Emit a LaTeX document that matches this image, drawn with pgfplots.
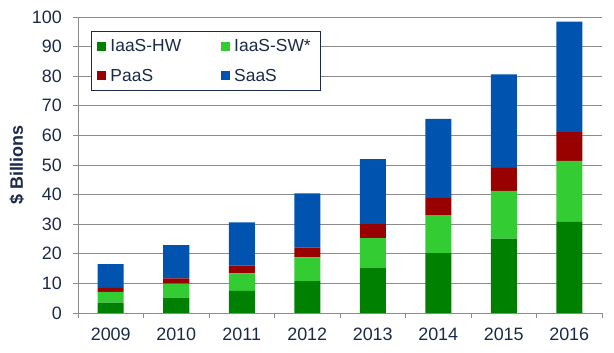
\documentclass[border=0pt]{standalone}
\usepackage{pgfplots}
\pgfplotsset{compat=1.18}
\usepackage{fontspec}
\setmainfont{Liberation Sans}
\definecolor{hw}{HTML}{008000}
\definecolor{sw}{HTML}{33CC33}
\definecolor{paas}{HTML}{990000}
\definecolor{saas}{HTML}{0054B0}
\definecolor{txt}{HTML}{1B2A48}
\definecolor{gridc}{HTML}{8C8C8C}
\begin{document}
\begin{tikzpicture}
\begin{axis}[
  scale only axis, width=524bp, height=296bp,
  ybar stacked, bar width=26bp,
  xmin=-0.5, xmax=7.5, ymin=0, ymax=100,
  xtick={0,...,7},
  xticklabels={2009,2010,2011,2012,2013,2014,2015,2016},
  minor xtick={-0.5,0.5,...,7.5},
  ytick={0,10,...,100},
  axis x line*=bottom, axis y line*=left,
  axis line style={gridc, line width=0.8pt},
  ymajorgrids, grid style={gridc, line width=0.8pt},
  major x tick style={draw=none},
  minor x tick style={gridc, line width=0.8pt},
  y tick style={gridc, line width=0.8pt},
  tick align=outside, major tick length=5bp, minor tick length=5bp,
  /pgf/number format/assume math mode=true,
  tick label style={font=\fontsize{18}{21}\selectfont, text=txt},
  yticklabel style={inner sep=0pt, xshift=-11bp},
  xticklabel style={inner sep=0pt, yshift=-10bp},
  ylabel={\textbf{\$ Billions}},
  every axis y label/.style={at={(axis description cs:-0.1164,0.5)}, rotate=90, anchor=center,
     font=\fontsize{18}{21}\selectfont, text=txt},
  legend columns=2,
  legend cell align=left,
  legend style={at={(axis cs:-0.3,95.3)}, anchor=north west,
    draw=txt, line width=0.8pt,
    font=\fontsize{17.5}{20}\selectfont, text=txt,
    inner xsep=6bp, inner ysep=6bp,
    nodes={inner xsep=4bp},
    /tikz/every even column/.append style={column sep=36bp},
    row sep=12bp},
  legend image code/.code={\fill[#1,draw=none] (0bp,-4.5bp) rectangle (9bp,4.5bp);},
]
\addplot[fill=hw, draw=none] coordinates {(0,3.5) (1,5.2) (2,7.5) (3,10.8) (4,15.2) (5,20.2) (6,25.1) (7,30.8)};
\addplot[fill=sw, draw=none] coordinates {(0,3.6) (1,4.7) (2,5.9) (3,8.0) (4,10.1) (5,12.9) (6,16.2) (7,20.6)};
\addplot[fill=paas, draw=none] coordinates {(0,1.4) (1,1.8) (2,2.6) (3,3.3) (4,4.7) (5,5.8) (6,7.7) (7,9.7)};
\addplot[fill=saas, draw=none] coordinates {(0,8.0) (1,11.2) (2,14.6) (3,18.3) (4,22.0) (5,26.7) (6,31.6) (7,37.3)};
\legend{IaaS-HW, IaaS-SW*, PaaS, SaaS}
\end{axis}
\pgfresetboundingbox
\path ([shift={(-78bp,-40bp)}]current axis.south west) rectangle ([shift={(12bp,17bp)}]current axis.north east);
\end{tikzpicture}
\end{document}
